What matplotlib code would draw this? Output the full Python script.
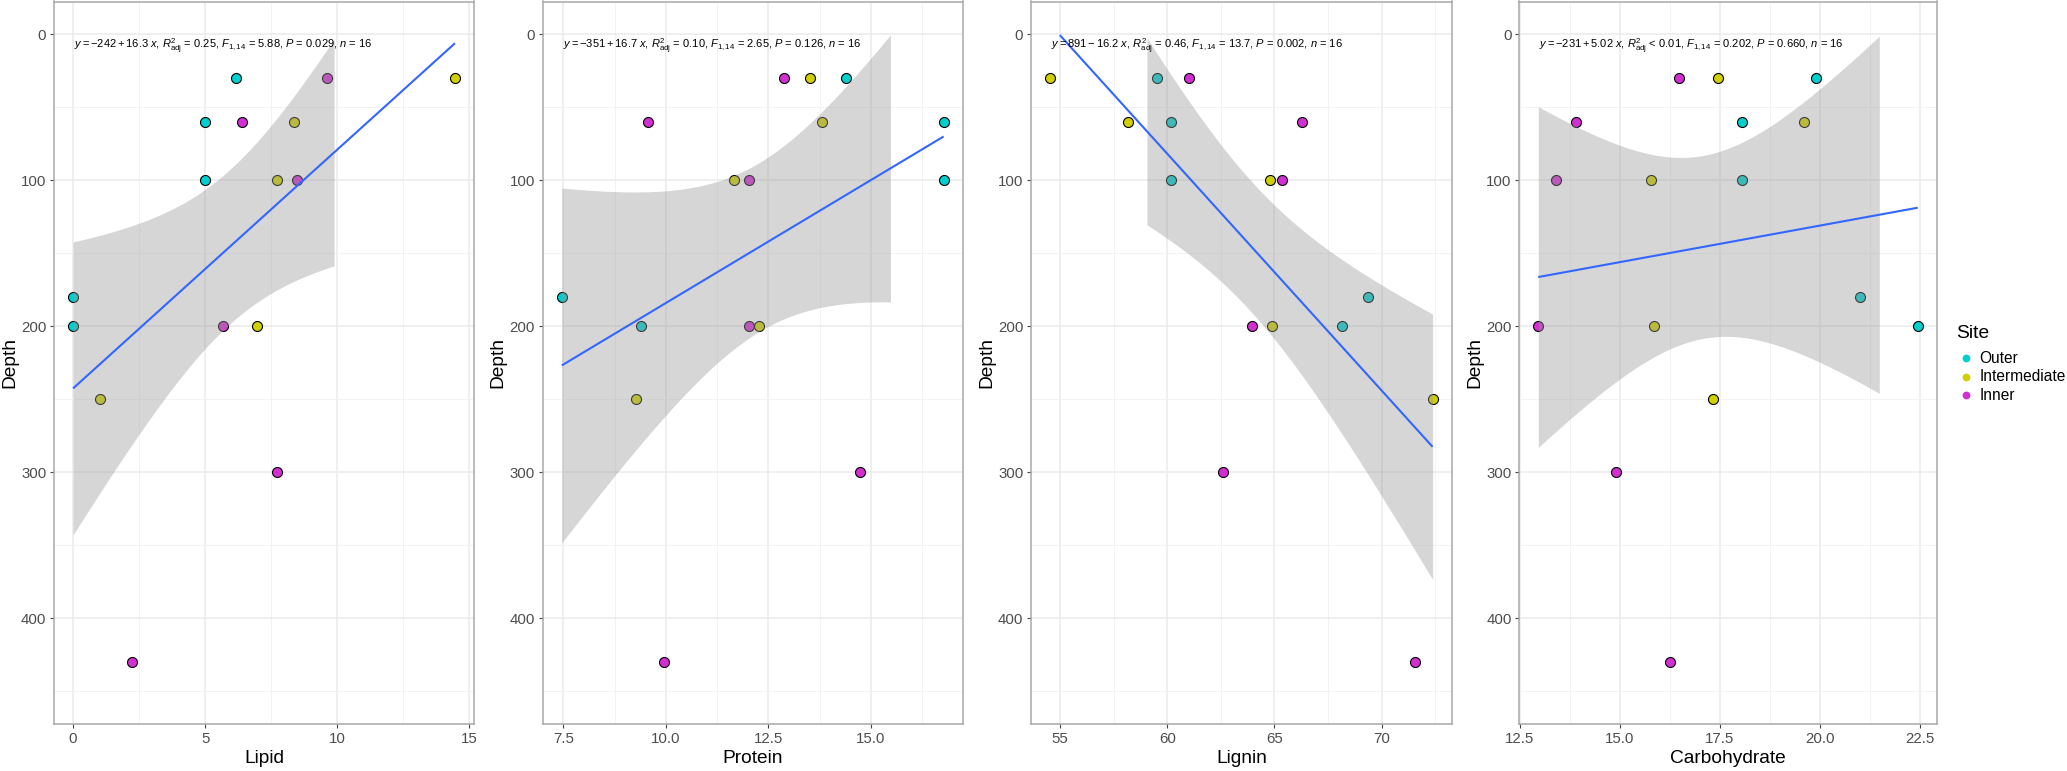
import numpy as np
import matplotlib
matplotlib.use("Agg")
import matplotlib.pyplot as plt
from matplotlib.lines import Line2D
from matplotlib.ticker import FixedLocator

plt.rcParams['font.family'] = ['Liberation Sans', 'DejaVu Sans']
plt.rcParams['mathtext.fontset'] = 'custom'
plt.rcParams['mathtext.rm'] = 'Liberation Sans'
plt.rcParams['mathtext.it'] = 'Liberation Sans:italic'
plt.rcParams['mathtext.bf'] = 'Liberation Sans:bold'

# ---------------- data ----------------
site = ["Outer"] * 5 + ["Intermediate"] * 5 + ["Inner"] * 6
depth = [30, 60, 100, 180, 200,
         30, 60, 100, 200, 250,
         30, 60, 100, 200, 300, 430]
lipid = [6.16, 5.0, 5.0, 0.0, 0.0,
         14.45, 8.37, 7.73, 6.96, 1.03,
         9.60, 6.41, 8.46, 5.68, 7.71, 2.23]
protein = [14.39, 16.77, 16.77, 7.46, 9.39,
           13.52, 13.80, 11.66, 12.28, 9.28,
           12.87, 9.55, 12.03, 12.03, 14.73, 9.95]
lignin = [59.52, 60.16, 60.16, 69.38, 68.17,
          54.53, 58.18, 64.78, 64.88, 72.38,
          61.02, 66.30, 65.33, 63.96, 62.61, 71.57]
carbohydrate = [19.89, 18.06, 18.06, 20.99, 22.44,
                17.45, 19.60, 15.77, 15.85, 17.32,
                16.47, 13.90, 13.40, 12.96, 14.90, 16.26]

site_levels = ["Outer", "Intermediate", "Inner"]
site_colors = {"Outer": "#00CFCF", "Intermediate": "#D0D000", "Inner": "#D22ED2"}

variables = ["Lipid", "Protein", "Lignin", "Carbohydrate"]
values = {"Lipid": lipid, "Protein": protein, "Lignin": lignin, "Carbohydrate": carbohydrate}
xticks = {"Lipid": [0, 5, 10, 15],
          "Protein": [7.5, 10.0, 12.5, 15.0],
          "Lignin": [55, 60, 65, 70],
          "Carbohydrate": [12.5, 15.0, 17.5, 20.0, 22.5]}
xtick_labels = {"Lipid": ["0", "5", "10", "15"],
                "Protein": ["7.5", "10.0", "12.5", "15.0"],
                "Lignin": ["55", "60", "65", "70"],
                "Carbohydrate": ["12.5", "15.0", "17.5", "20.0", "22.5"]}
equations = {
    "Lipid": r"$y = -242 + 16.3\ x$, $R^{2}_{\mathrm{adj}}$ = 0.25, $F_{\mathrm{1,14}}$ = 5.88, $P$ = 0.029, $n$ = 16",
    "Protein": r"$y = -351 + 16.7\ x$, $R^{2}_{\mathrm{adj}}$ = 0.10, $F_{\mathrm{1,14}}$ = 2.65, $P$ = 0.126, $n$ = 16",
    "Lignin": r"$y = 891 - 16.2\ x$, $R^{2}_{\mathrm{adj}}$ = 0.46, $F_{\mathrm{1,14}}$ = 13.7, $P$ = 0.002, $n$ = 16",
    "Carbohydrate": r"$y = -231 + 5.02\ x$, $R^{2}_{\mathrm{adj}}$ < 0.01, $F_{\mathrm{1,14}}$ = 0.202, $P$ = 0.660, $n$ = 16",
}
yticks = [0, 100, 200, 300, 400]
ylimits = (0, 450)
T975_DF14 = 2.144787

# ---------------- figure ----------------
W, H = 2067, 771
fig = plt.figure(figsize=(W / 100, H / 100), dpi=100)
lefts = [54, 542.7, 1031, 1519.3]
widths = [420, 420, 420.7, 417.4]
top_px, bot_px = 1.5, 724

depth_a = np.array(depth, float)
sites_a = np.array(site)
ypad = 0.05 * (ylimits[1] - ylimits[0])

for i, var in enumerate(variables):
    ax = fig.add_axes([lefts[i] / W, 1 - bot_px / H, widths[i] / W, (bot_px - top_px) / H])
    x = np.array(values[var], float)
    # points
    for s in site_levels:
        m = sites_a == s
        ax.scatter(x[m], depth_a[m], s=52, c=site_colors[s], edgecolors="black",
                   linewidths=0.8, zorder=3)
    # linear fit with 95% CI (computed on data)
    n = len(x)
    b1, b0 = np.polyfit(x, depth_a, 1)
    resid = depth_a - (b0 + b1 * x)
    sres = np.sqrt(np.sum(resid ** 2) / (n - 2))
    xbar = x.mean()
    sxx = np.sum((x - xbar) ** 2)
    xs = np.linspace(x.min(), x.max(), 80)
    fit = b0 + b1 * xs
    se = sres * np.sqrt(1 / n + (xs - xbar) ** 2 / sxx)
    lo = fit - T975_DF14 * se
    hi = fit + T975_DF14 * se
    band_ok = (lo >= ylimits[0]) & (hi <= ylimits[1])
    line_ok = (fit >= ylimits[0]) & (fit <= ylimits[1])
    ax.fill_between(xs, np.where(band_ok, lo, np.nan), np.where(band_ok, hi, np.nan),
                    color="#999999", alpha=0.4, linewidth=0, zorder=4)
    ax.plot(xs[line_ok], fit[line_ok], color="#3366FF", lw=1.5, zorder=5,
            solid_capstyle="butt")

    # scales
    xr = x.max() - x.min()
    ax.set_xlim(x.min() - 0.05 * xr, x.max() + 0.05 * xr)
    ax.set_ylim(ylimits[1] + ypad, ylimits[0] - ypad)
    ax.set_xticks(xticks[var])
    ax.set_xticklabels(xtick_labels[var])
    ax.set_yticks(yticks)
    ax.set_yticklabels([str(v) for v in yticks])
    xt = xticks[var]
    step = xt[1] - xt[0]
    minors = [v + step / 2 for v in [xt[0] - step] + xt]
    ax.xaxis.set_minor_locator(FixedLocator(minors))
    ax.yaxis.set_minor_locator(FixedLocator([-50, 50, 150, 250, 350, 450]))
    ax.grid(which="major", color="#EBEBEB", lw=1.1, zorder=0)
    ax.grid(which="minor", color="#F3F3F3", lw=0.7, zorder=0)
    ax.set_axisbelow(True)
    ax.tick_params(which="major", direction="out", length=3.0, width=0.8,
                   color="#444444", labelcolor="#4D4D4D", labelsize=10.8, pad=2.5)
    ax.tick_params(which="minor", length=0)
    for sp in ax.spines.values():
        sp.set_color("#A8A8A8")
        sp.set_linewidth(1.1)
    ax.set_xlabel(var, fontsize=13.8, color="black", labelpad=3)
    ax.set_ylabel("Depth", fontsize=13.8, color="black")
    ax.yaxis.set_label_coords(-36 / widths[i], 0.5)

    # equation label
    ax.text(x.min() + 0.003 * xr, 8, equations[var], fontsize=8.0, color="black",
            ha="left", va="center", zorder=6)

# legend
fig.text(1956 / W, 1 - 333 / H, "Site", fontsize=13.9, ha="left", va="center")
for k, s in enumerate(site_levels):
    yk = 358.3 + k * 18.4
    fig.add_artist(Line2D([1966 / W], [1 - yk / H], transform=fig.transFigure,
                          marker="o", ms=5.6, color=site_colors[s], linestyle="",
                          markeredgewidth=0))
    fig.text(1979.5 / W, 1 - yk / H, s, fontsize=11.2, ha="left", va="center")

fig.savefig("out.png", dpi=100)
